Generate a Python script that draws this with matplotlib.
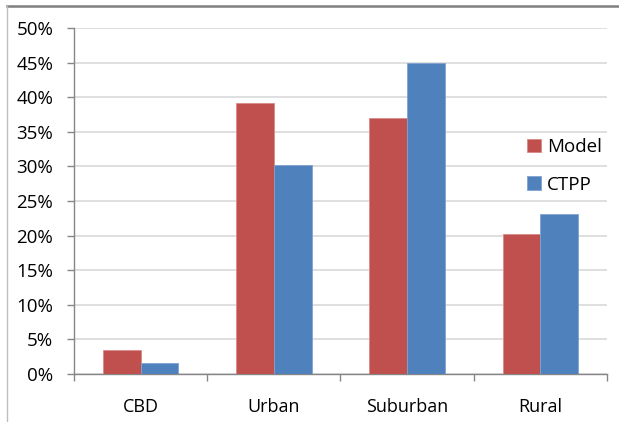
import matplotlib
matplotlib.use("Agg")
import matplotlib.pyplot as plt
import numpy as np
from matplotlib.lines import Line2D
from matplotlib.ticker import MultipleLocator, FuncFormatter

categories = ["CBD", "Urban", "Suburban", "Rural"]
model = [3.5, 39.2, 37.0, 20.3]
ctpp = [1.6, 30.2, 45.0, 23.1]
series_names = ["Model", "CTPP"]

red = "#C0504D"
blue = "#4F81BD"
axis_gray = "#868686"
grid_gray = "#D9D9D9"

plt.rcParams["font.family"] = ["Open Sans", "DejaVu Sans"]

fig = plt.figure(figsize=(6.19, 4.22), dpi=100)
W, H = 619, 422
ax = fig.add_axes([74 / W, 1 - 374 / H, (607 - 74) / W, (374 - 28) / H])

x = np.arange(len(categories))
w = 0.283
ax.bar(x - w / 2, model, width=w, color=red, edgecolor="#D98A88", linewidth=0.6,
       label=series_names[0], zorder=3)
ax.bar(x + w / 2, ctpp, width=w, color=blue, edgecolor="#7FA3D0", linewidth=0.6,
       label=series_names[1], zorder=3)

ax.set_xlim(-0.5, len(categories) - 0.5)
ax.set_ylim(0, 50)
ax.yaxis.set_major_locator(MultipleLocator(5))
ax.yaxis.set_major_formatter(FuncFormatter(lambda v, p: f"{v:.0f}%"))
ax.grid(axis="y", color=grid_gray, linewidth=1.2, zorder=0)
ax.set_axisbelow(True)

ax.set_xticks(x)
ax.set_xticklabels(categories)
ax.set_xticks(np.arange(-0.5, len(categories), 1), minor=True)
ax.tick_params(axis="x", which="major", length=0, pad=17, labelsize=13, labelcolor="#000000")
ax.tick_params(axis="x", which="minor", length=5, width=1, color=axis_gray, direction="out")
ax.tick_params(axis="y", length=5, width=1, color=axis_gray, direction="out",
               pad=10, labelsize=13.5)

for s in ["top", "right"]:
    ax.spines[s].set_visible(False)
for s in ["left", "bottom"]:
    ax.spines[s].set_color(axis_gray)
    ax.spines[s].set_linewidth(1)

ax.legend(loc="upper left", bbox_to_anchor=(527 / W, 1 - 138 / H),
          bbox_transform=fig.transFigure, frameon=False, fontsize=13.5,
          handlelength=0.75, handleheight=0.75, handletextpad=0.3,
          labelspacing=1.05, borderaxespad=0, borderpad=0)

# outer frame of the chart area
fig.add_artist(Line2D([7 / W, 1.0], [1 - 6 / H, 1 - 6 / H], transform=fig.transFigure,
                      color="#7F7F7F", linewidth=1.8))
fig.add_artist(Line2D([7 / W, 7 / W], [0, 1 - 6 / H], transform=fig.transFigure,
                      color="#BFBFBF", linewidth=1.0))

fig.savefig("out.png", dpi=100, facecolor="white")
